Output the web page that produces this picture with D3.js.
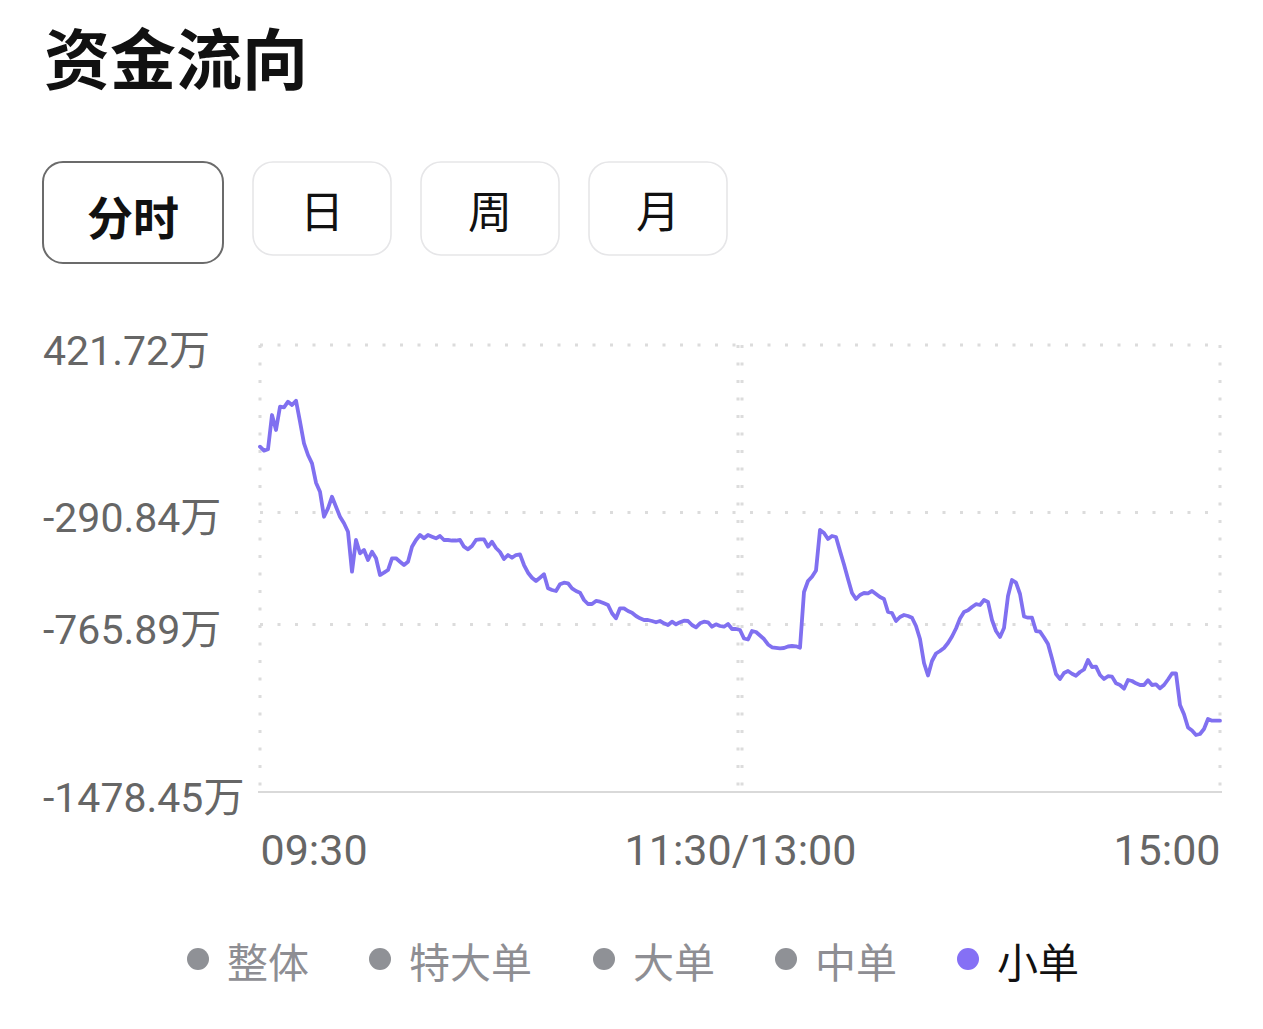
<!DOCTYPE html>
<html>
<head>
<meta charset="utf-8">
<script src="https://cdn.jsdelivr.net/npm/d3@7"></script>
<style>
  html, body { margin: 0; padding: 0; background: #fff; }
  svg { display: block; }
  text { font-family: Roboto, "Noto Sans CJK SC", sans-serif; }
  .cjk { font-family: "Noto Sans CJK SC", sans-serif; }
</style>
</head>
<body>
<svg id="chart" width="1263" height="1029"></svg>
<script>
// ---------- data ----------
const title = "资金流向";
const tabs = ["分时", "日", "周", "月"];
const activeTab = "分时";
const legendItems = ["整体", "特大单", "大单", "中单", "小单"];
const activeLegend = "小单";
const xTickLabels = ["09:30", "11:30/13:00", "15:00"];
const xTickMinutes = [0, 120, 240];
const yTickValues = [421.72, -290.84, -765.89, -1478.45];
const yMin = -1478.45, yMax = 421.72;

// 小单 net flow (万), one value per minute: 09:30..11:30 (121), 13:01..15:00 (120)
const morningFlow = [
  -10.6, -27.6, -21.7, 124.1, 60.4, 159.4, 156.9, 180.7, 166.6, 184.9,
  95.7, 3.8, -45.9, -81.2, -163.6, -201.9, -308.2, -272.5, -223.2, -265.7,
  -308.2, -336.2, -371.9, -542.0, -407.2, -463.8, -449.7, -492.2, -457.0, -485.0,
  -556.0, -546.2, -534.8, -485.0, -485.0, -499.5, -513.5, -499.5, -435.7, -407.2,
  -386.0, -400.0, -386.0, -393.2, -400.0, -390.2, -407.2, -407.2, -409.4, -409.4,
  -407.2, -435.7, -446.8, -432.7, -407.2, -404.3, -404.3, -435.7, -414.5, -441.2,
  -458.2, -488.0, -471.0, -482.5, -471.0, -468.0, -513.5, -546.2, -567.5, -581.5,
  -567.5, -553.0, -612.6, -619.8, -624.0, -595.5, -588.7, -591.3, -612.6, -624.0,
  -631.2, -662.3, -679.3, -679.3, -666.5, -669.5, -676.3, -683.5, -718.8, -740.1,
  -697.6, -697.6, -709.0, -716.3, -730.3, -740.1, -747.3, -747.3, -751.6, -757.1,
  -751.6, -761.3, -768.6, -754.5, -765.6, -757.1, -750.3, -751.6, -768.6, -778.3,
  -761.3, -754.5, -757.1, -775.8, -765.6, -772.8, -775.8, -764.3, -785.6, -785.6,
  -789.8
];
const afternoonFlow = [
  -825.9, -830.2, -794.1, -798.3, -813.2, -828.1, -851.4, -863.3, -865.5, -867.6,
  -866.3, -859.9, -857.8, -859.1, -865.0, -628.3, -581.5, -563.2, -536.9, -364.7,
  -377.5, -403.0, -390.2, -394.5, -454.0, -511.4, -573.0, -632.5, -658.0, -641.0,
  -632.5, -633.8, -624.0, -636.8, -649.5, -658.0, -713.3, -717.5, -751.6, -734.5,
  -726.0, -730.3, -737.9, -772.8, -828.1, -930.1, -983.2, -921.6, -889.7, -879.1,
  -866.3, -845.1, -817.4, -783.4, -740.9, -713.3, -706.1, -692.0, -680.1, -683.5,
  -662.3, -670.8, -747.3, -794.1, -819.6, -781.3, -645.3, -577.3, -588.7, -636.8,
  -732.4, -737.5, -737.5, -794.1, -797.0, -821.7, -849.3, -911.0, -976.8, -998.1,
  -972.6, -964.1, -975.6, -984.1, -968.3, -957.7, -917.3, -947.1, -945.8, -981.1,
  -998.1, -986.2, -987.9, -1016.4, -1023.6, -1039.3, -1002.4, -1006.6, -1016.4, -1023.6,
  -1023.6, -1003.2, -1023.6, -1021.1, -1037.6, -1023.6, -1000.2, -974.7, -973.9, -1108.6,
  -1148.2, -1204.3, -1217.0, -1236.2, -1231.9, -1210.6, -1168.1, -1175.4, -1175.4, -1175.4
];

// ---------- drawing ----------
const svg = d3.select("#chart");
const lineColor = "#8070f0";
const gridColor = "#dcdcdc";

// title
svg.append("text").attr("class", "cjk")
  .attr("x", 44).attr("y", 84)
  .attr("font-size", 66).attr("font-weight", 700).attr("fill", "#111")
  .text(title);

// tabs
const tabBoxes = [
  {x: 43, w: 180, h: 101},
  {x: 253, w: 138, h: 93},
  {x: 421, w: 138, h: 93},
  {x: 589, w: 138, h: 93}
];
const tabG = svg.append("g");
tabs.forEach((t, i) => {
  const b = tabBoxes[i];
  const active = t === activeTab;
  tabG.append("rect")
    .attr("x", b.x).attr("y", 162).attr("width", b.w).attr("height", b.h)
    .attr("rx", 20).attr("fill", "#fff")
    .attr("stroke", active ? "#6b6b6b" : "#e6e6e8")
    .attr("stroke-width", active ? 2 : 1.6);
  tabG.append("text").attr("class", "cjk")
    .attr("x", b.x + b.w / 2).attr("y", 162 + b.h / 2 + (active ? 2 : 0))
    .attr("text-anchor", "middle").attr("dominant-baseline", "central")
    .attr("font-size", active ? 46 : 44)
    .attr("font-weight", active ? 700 : 400)
    .attr("fill", "#111")
    .text(t);
});

// scales
const plotLeft = 260, plotRight = 1220, plotTop = 345, plotBottom = 792;
const x = d3.scaleLinear().domain([0, 240]).range([plotLeft, plotRight]);
const y = d3.scaleLinear().domain([yMin, yMax]).range([plotBottom, plotTop]);

const data = morningFlow.map((v, i) => ({m: i, v}))
  .concat(afternoonFlow.map((v, i) => ({m: 121 + i, v})));

// horizontal grid (dotted), except bottom which is solid axis
const gridG = svg.append("g");
yTickValues.filter(v => v !== yMin).forEach(v => {
  gridG.append("line")
    .attr("x1", plotLeft).attr("x2", plotRight)
    .attr("y1", y(v)).attr("y2", y(v))
    .attr("stroke", gridColor).attr("stroke-width", 3)
    .attr("stroke-dasharray", "3,14.5");
});
// vertical grid
const vLines = [
  {xx: x(0)}, {xx: x(120) - 2}, {xx: x(120) + 2}, {xx: x(240)}
];
vLines.forEach(d => {
  gridG.append("line")
    .attr("x1", d.xx).attr("x2", d.xx)
    .attr("y1", plotTop).attr("y2", plotBottom)
    .attr("stroke", gridColor).attr("stroke-width", 3)
    .attr("stroke-dasharray", "3,14.5");
});
// bottom axis line
gridG.append("line")
  .attr("x1", plotLeft - 2).attr("x2", plotRight + 2)
  .attr("y1", plotBottom).attr("y2", plotBottom)
  .attr("stroke", "#d9d9d9").attr("stroke-width", 2);

// y axis labels
const yAxis = d3.axisLeft(y).tickValues(yTickValues).tickSize(0)
  .tickFormat(d => d.toFixed(2) + "万");
const yG = svg.append("g").attr("transform", "translate(43,0)").call(yAxis);
yG.select(".domain").remove();
yG.selectAll("text")
  .attr("x", 0).attr("dy", "0.38em")
  .attr("text-anchor", "start")
  .attr("font-size", 41).attr("fill", "#666")
  .style("font-family", 'Roboto, "Noto Sans CJK SC", sans-serif');
yG.selectAll(".tick").attr("transform", d => `translate(0,${y(d) + 4})`);

// x axis labels
const xAxis = d3.axisBottom(x).tickValues(xTickMinutes).tickSize(0)
  .tickFormat((d, i) => xTickLabels[i]);
const xG = svg.append("g").attr("transform", `translate(0,${plotBottom})`).call(xAxis);
xG.select(".domain").remove();
xG.selectAll("text")
  .attr("y", 73).attr("dy", 0)
  .attr("font-size", 43).attr("fill", "#666")
  .attr("text-anchor", (d, i) => i === 0 ? "start" : (i === 2 ? "end" : "middle"))
  .style("font-family", 'Roboto, "Noto Sans CJK SC", sans-serif');

// line
const line = d3.line().x(d => x(d.m)).y(d => y(d.v));
svg.append("path").datum(data)
  .attr("d", line)
  .attr("fill", "none")
  .attr("stroke", lineColor)
  .attr("stroke-width", 3.8)
  .attr("stroke-linejoin", "round")
  .attr("stroke-linecap", "round");

// legend
const legendX = [198, 380, 604, 786, 968];
const legG = svg.append("g");
legendItems.forEach((name, i) => {
  const active = name === activeLegend;
  legG.append("circle")
    .attr("cx", legendX[i]).attr("cy", 959).attr("r", 11)
    .attr("fill", active ? "#8570f5" : "#8f9196");
  legG.append("text").attr("class", "cjk")
    .attr("x", legendX[i] + 29).attr("y", 960)
    .attr("dominant-baseline", "central")
    .attr("font-size", 41)
    .attr("fill", active ? "#111" : "#8e8e93")
    .text(name);
});
</script>
</body>
</html>
